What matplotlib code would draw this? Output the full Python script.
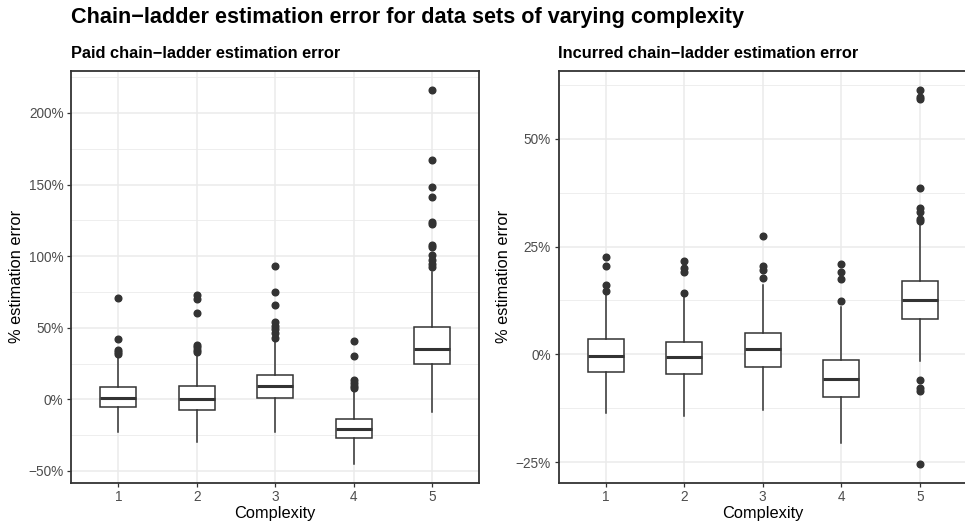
import matplotlib
matplotlib.use("Agg")
import matplotlib.pyplot as plt

plt.rcParams['font.family'] = ['Liberation Sans', 'DejaVu Sans']

# complexity levels (x axis)
complexity = [1, 2, 3, 4, 5]

# Paid chain-ladder: box stats in %
paid_whislo = [-22.8, -29.7, -22.7, -45.0, -8.8]
paid_q1 = [-5.6, -7.2, 0.7, -27.2, 24.9]
paid_med = [1.0, 0.5, 9.3, -20.7, 35.3]
paid_q3 = [8.9, 9.1, 17.2, -13.5, 50.5]
paid_whishi = [30.0, 31.2, 41.6, 5.6, 89.0]
paid_fliers = [
    [70.7, 42.1, 34.7, 32.8, 31.4],
    [73.0, 70.0, 60.2, 38.1, 36.5, 34.7, 32.8],
    [92.8, 74.9, 65.8, 53.7, 51.4, 49.1, 46.3, 42.8],
    [40.9, 30.5, 13.3, 11.4, 9.6, 7.9],
    [216.2, 167.2, 148.5, 141.1, 124.1, 122.5, 107.9, 106.2, 100.8, 97.4, 94.6, 92.3],
]

# Incurred chain-ladder
inc_whislo = [-13.7, -14.3, -12.9, -20.5, -1.6]
inc_q1 = [-4.0, -4.5, -3.0, -9.8, 8.2]
inc_med = [-0.4, -0.7, 1.2, -5.7, 12.5]
inc_q3 = [3.5, 2.9, 4.9, -1.4, 17.1]
inc_whishi = [14.0, 13.6, 16.1, 10.9, 30.4]
inc_fliers = [
    [22.5, 20.5, 16.0, 14.8],
    [21.6, 20.0, 19.1, 14.2],
    [27.5, 20.5, 19.6, 17.8],
    [20.9, 19.0, 17.5, 12.3],
    [61.4, 59.7, 59.1, 38.6, 33.9, 32.9, 31.3, 30.9, -5.9, -7.8, -8.6, -25.4],
]

paid_yticks = [-50, 0, 50, 100, 150, 200]
paid_ylabels = ['\u221250%', '0%', '50%', '100%', '150%', '200%']
paid_yminor = [-25, 25, 75, 125, 175, 225]
inc_yticks = [-25, 0, 25, 50]
inc_ylabels = ['\u221225%', '0%', '25%', '50%']
inc_yminor = [-12.5, 12.5, 37.5, 62.5]

W, H = 965, 526
dark = '#333333'


def make_stats(lo, q1, med, q3, hi, fl):
    out = []
    for i in range(len(lo)):
        out.append(dict(whislo=lo[i], q1=q1[i], med=med[i], q3=q3[i],
                        whishi=hi[i], fliers=fl[i]))
    return out


def draw_panel(ax, stats, yticks, ylabels, yminor, ylim, subtitle):
    ax.bxp(stats, positions=complexity, widths=0.46, showcaps=False,
           patch_artist=True,
           boxprops=dict(facecolor='white', edgecolor=dark, linewidth=1.1),
           whiskerprops=dict(color=dark, linewidth=1.1),
           medianprops=dict(color=dark, linewidth=2.2),
           flierprops=dict(marker='o', markerfacecolor=dark, markeredgecolor=dark,
                           markersize=4.8))
    ax.set_xlim(0.4, 5.6)
    ax.set_ylim(*ylim)
    ax.set_xticks(complexity)
    ax.set_xticklabels([str(c) for c in complexity])
    ax.set_yticks(yticks)
    ax.set_yticklabels(ylabels)
    ax.set_yticks(yminor, minor=True)
    ax.grid(True, which='major', color='#EBEBEB', linewidth=1.1)
    ax.grid(True, which='minor', axis='y', color='#EBEBEB', linewidth=0.6)
    ax.set_axisbelow(True)
    ax.tick_params(which='major', length=3, width=0.9, color=dark,
                   labelcolor='#4D4D4D', labelsize=9.8, pad=2.5)
    ax.tick_params(which='minor', length=0)
    for s in ax.spines.values():
        s.set_color(dark)
        s.set_linewidth(1.3)
    ax.set_xlabel('Complexity', fontsize=11.8, labelpad=1.5)
    ax.set_ylabel('% estimation error', fontsize=11.8, labelpad=3)
    ax.set_title(subtitle, loc='left', fontsize=11.8, fontweight='bold', pad=9)


fig = plt.figure(figsize=(W / 100, H / 100), dpi=100)
ax1 = fig.add_axes([71.2 / W, (H - 482.5) / H, 408 / W, 411.5 / H])
ax2 = fig.add_axes([558.5 / W, (H - 482.5) / H, 408.5 / W, 411.5 / H])

draw_panel(ax1, make_stats(paid_whislo, paid_q1, paid_med, paid_q3, paid_whishi, paid_fliers),
           paid_yticks, paid_ylabels, paid_yminor, (-58.1, 229.3),
           'Paid chain\u2212ladder estimation error')
draw_panel(ax2, make_stats(inc_whislo, inc_q1, inc_med, inc_q3, inc_whishi, inc_fliers),
           inc_yticks, inc_ylabels, inc_yminor, (-29.7, 65.7),
           'Incurred chain\u2212ladder estimation error')

fig.text(71 / W, (H - 22.7) / H,
         'Chain\u2212ladder estimation error for data sets of varying complexity',
         fontsize=15.6, fontweight='bold', ha='left', va='baseline')

fig.savefig('out.png', dpi=100)
